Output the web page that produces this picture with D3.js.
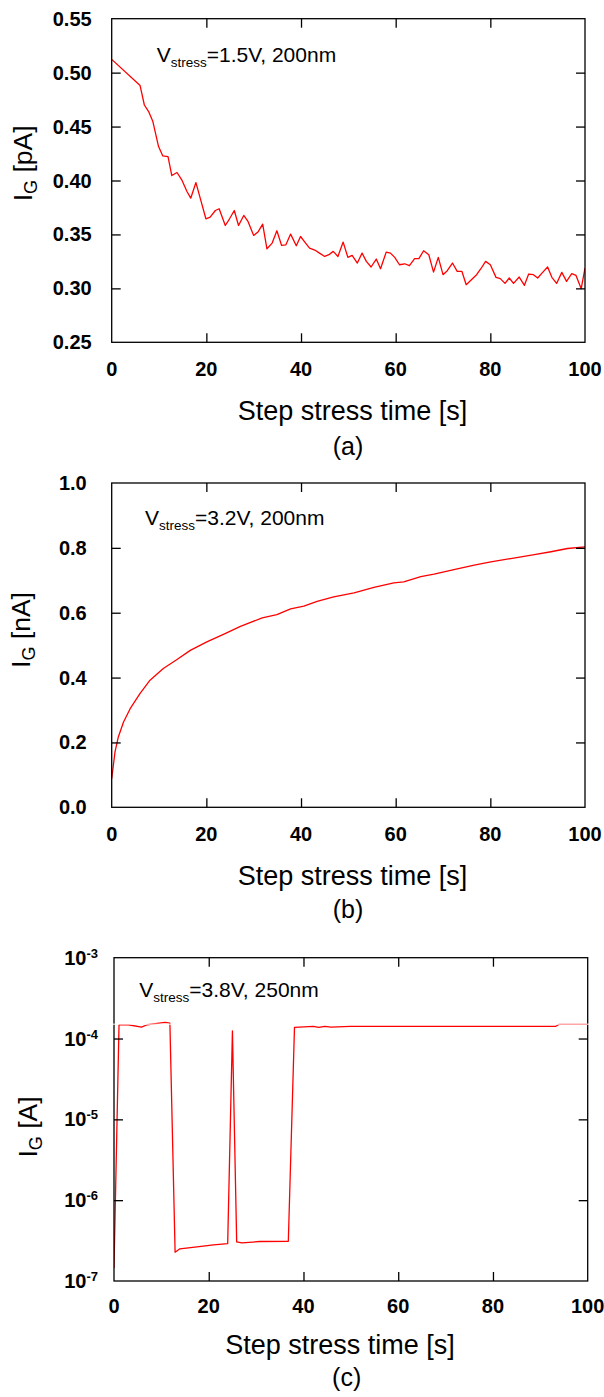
<!DOCTYPE html>
<html><head><meta charset="utf-8">
<script src="https://cdn.jsdelivr.net/npm/d3@7"></script>
<style>html,body{margin:0;padding:0;background:#fff;} svg{display:block;}</style>
</head><body><svg id="chart" width="604" height="1397"></svg>
<script>
// ---------- DATA ----------
const timeA=[0,6.0,6.9,7.8,8.7,9.9,10.8,11.9,12.7,13.8,14.8,15.9,16.7,17.8,18.8,19.9,20.8,21.9,22.7,24.0,24.9,25.9,26.8,27.9,28.8,30.0,30.9,31.9,32.8,33.9,34.9,35.9,36.8,37.8,39.0,39.9,40.8,41.8,42.9,43.9,45.0,45.9,46.8,47.8,48.9,49.9,50.8,51.9,52.9,53.8,54.8,55.9,56.8,58.0,58.9,59.8,60.8,61.9,62.9,64.0,64.9,65.9,67.0,68.0,69.0,70.0,70.9,72.0,73.0,74.0,74.9,76.0,77.1,78.0,79.0,80.0,81.2,82.1,83.1,84.0,84.9,86.1,87.2,88.1,89.1,90.0,91.1,92.1,93.0,94.0,95.1,96.1,97.2,98.1,99.2,100];
const igA=[0.5123,0.488,0.470,0.4639,0.4546,0.4315,0.4228,0.4222,0.4046,0.4074,0.4006,0.3898,0.3836,0.3981,0.3821,0.3645,0.3660,0.3722,0.3738,0.3583,0.3645,0.3722,0.3583,0.3676,0.3620,0.3491,0.3522,0.3596,0.3367,0.3420,0.3534,0.3398,0.3404,0.3503,0.3395,0.3481,0.3429,0.3373,0.3355,0.3327,0.3296,0.3312,0.3343,0.3296,0.3429,0.3287,0.3306,0.3235,0.3327,0.3250,0.3198,0.3272,0.3182,0.3336,0.3327,0.3287,0.3219,0.3228,0.3210,0.3275,0.3275,0.3349,0.3312,0.3151,0.3287,0.3127,0.3164,0.3235,0.3157,0.3157,0.3034,0.3080,0.3127,0.3182,0.3250,0.3219,0.3102,0.3090,0.3046,0.3096,0.3046,0.3105,0.3028,0.3133,0.3127,0.3096,0.3151,0.3198,0.3102,0.3046,0.3148,0.3065,0.3136,0.3120,0.2997,0.3188];

const timeB=[0,0.7,1.4,2.5,3.9,6.0,8.1,10.9,13.8,16.6,20.1,23.6,27.2,31.8,34.9,37.8,40.6,43.4,46.9,51.2,55.4,59.6,61.7,65.3,68.1,72.3,76.6,80.1,84.3,89.3,92.8,96.3,100];
const igB=[0.088,0.171,0.217,0.263,0.304,0.351,0.392,0.428,0.456,0.484,0.510,0.533,0.558,0.584,0.594,0.612,0.620,0.635,0.649,0.661,0.678,0.692,0.695,0.711,0.719,0.733,0.747,0.757,0.767,0.779,0.788,0.798,0.803];

const timeC=[0,1.06,3.0,5.8,7.0,10.8,11.8,12.9,13.9,17.5,21.0,24.0,25.0,25.9,27.0,30.8,36.8,38.1,42.1,43.2,44.5,45.8,49.9,93.2,94.0,100];
const igC=[1.45e-7,1.48e-4,1.48e-4,1.38e-4,1.48e-4,1.58e-4,1.55e-4,2.27e-7,2.5e-7,2.65e-7,2.8e-7,2.9e-7,1.24e-4,3.04e-7,2.96e-7,3.08e-7,3.1e-7,1.37e-4,1.41e-4,1.37e-4,1.41e-4,1.38e-4,1.41e-4,1.41e-4,1.5e-4,1.5e-4];
const artifactC=1.5e-4;

const xTicks=[0,20,40,60,80,100];
const yTicksA=[0.25,0.30,0.35,0.40,0.45,0.50,0.55];
const yLabelsA=["0.25","0.30","0.35","0.40","0.45","0.50","0.55"];
const yTicksB=[0,0.2,0.4,0.6,0.8,1.0];
const yLabelsB=["0.0","0.2","0.4","0.6","0.8","1.0"];
const yTicksC=[1e-7,1e-6,1e-5,1e-4,1e-3];
const yExpC=["-7","-6","-5","-4","-3"];

const xTitle="Step stress time [s]";
const yUnits=[" [pA]"," [nA]"," [A]"];
const notes=["=1.5V, 200nm","=3.2V, 200nm","=3.8V, 250nm"];
const tags=["(a)","(b)","(c)"];

// ---------- LAYOUT ----------
const FONT="'Liberation Sans', Arial, Helvetica, sans-serif";
const layout=[
 {x0:111.7,x1:585,y0:18.7,y1:342.3, ytlx:91.7, xtly:376, xtitY:420, tagY:455, tagX:348, titX:352.5, ylabX:32, ylabY:163.4, noteX:156.7, noteY:61.7},
 {x0:111.7,x1:585,y0:483,y1:807.3, ytlx:86.7, xtly:841, xtitY:885, tagY:918, tagX:348, titX:352.5, ylabX:29.5, ylabY:630, noteX:145, noteY:525},
 {x0:114,x1:587.7,y0:957.7,y1:1281, ytlx:98, xtly:1313, xtitY:1354, tagY:1386, tagX:346.7, titX:340, ylabX:37, ylabY:1127, noteX:139.3, noteY:997.3}
];

const svg=d3.select("#chart");
svg.append("rect").attr("width",604).attr("height",1397).attr("fill","#fff");

function panel(i, xs, ys, yTicks, yLabelFn, times, vals){
  const L=layout[i];
  const g=svg.append("g");
  const cid="clip"+i;
  svg.append("clipPath").attr("id",cid).append("rect")
    .attr("x",L.x0).attr("y",L.y0).attr("width",L.x1-L.x0).attr("height",L.y1-L.y0);
  const pts=times.map((t,k)=>[t,vals[k]]);
  g.append("path").datum(pts).attr("clip-path",`url(#${cid})`)
    .attr("fill","none").attr("stroke","#ff0000").attr("stroke-width",1.3)
    .attr("stroke-linejoin","round")
    .attr("d",d3.line().x(d=>xs(d[0])).y(d=>ys(d[1])));
  g.append("rect").attr("x",L.x0).attr("y",L.y0).attr("width",L.x1-L.x0).attr("height",L.y1-L.y0)
    .attr("fill","none").attr("stroke","#000").attr("stroke-width",1.3);
  const TL=9;
  const xb=d3.axisBottom(xs).tickValues(xTicks.slice(1,-1)).tickSize(-TL).tickFormat("");
  const xt=d3.axisTop(xs).tickValues(xTicks.slice(1,-1)).tickSize(-TL).tickFormat("");
  const yl=d3.axisLeft(ys).tickValues(yTicks.slice(1,-1)).tickSize(-TL).tickFormat("");
  const yr=d3.axisRight(ys).tickValues(yTicks.slice(1,-1)).tickSize(-TL).tickFormat("");
  [[xb,`translate(0,${L.y1})`],[xt,`translate(0,${L.y0})`],[yl,`translate(${L.x0},0)`],[yr,`translate(${L.x1},0)`]].forEach(([ax,tr])=>{
    const a=g.append("g").attr("transform",tr).call(ax);
    a.select(".domain").remove();
    a.selectAll("line").attr("stroke","#000").attr("stroke-width",1.3);
  });
  g.selectAll(null).data(xTicks).enter().append("text")
    .attr("x",d=>xs(d)).attr("y",L.xtly).attr("text-anchor","middle")
    .attr("font-family",FONT).attr("font-size",20).attr("font-weight","bold").attr("fill","#000")
    .text(d=>d);
  yTicks.forEach((v,k)=>{
    const t=g.append("text").attr("x",L.ytlx).attr("y",ys(v)+7).attr("text-anchor","end")
      .attr("font-family",FONT).attr("font-weight","bold").attr("fill","#000");
    yLabelFn(t,k);
  });
  g.append("text").attr("x",L.titX).attr("y",L.xtitY).attr("text-anchor","middle")
    .attr("font-family",FONT).attr("font-size",27).attr("fill","#000").text(xTitle);
  g.append("text").attr("x",L.tagX).attr("y",L.tagY).attr("text-anchor","middle")
    .attr("font-family",FONT).attr("font-size",25).attr("fill","#000").text(tags[i]);
  const yt=g.append("text").attr("transform",`translate(${L.ylabX},${L.ylabY}) rotate(-90)`)
    .attr("text-anchor","middle").attr("font-family",FONT).attr("font-size",26.5).attr("fill","#000");
  yt.append("tspan").text("I");
  yt.append("tspan").attr("font-size",18).attr("dy",5).text("G");
  yt.append("tspan").attr("dy",-5).text(yUnits[i]);
  const nt=g.append("text").attr("x",L.noteX).attr("y",L.noteY)
    .attr("font-family",FONT).attr("font-size",21).attr("fill","#000");
  nt.append("tspan").text("V");
  nt.append("tspan").attr("font-size",13.5).attr("dy",5).text("stress");
  nt.append("tspan").attr("dy",-5).text(notes[i]);
  return g;
}

{
  const L=layout[0];
  const xs=d3.scaleLinear().domain([0,100]).range([L.x0,L.x1]);
  const ys=d3.scaleLinear().domain([0.25,0.55]).range([L.y1,L.y0]);
  panel(0,xs,ys,yTicksA,(t,k)=>t.attr("font-size",20).text(yLabelsA[k]),timeA,igA);
}
{
  const L=layout[1];
  const xs=d3.scaleLinear().domain([0,100]).range([L.x0,L.x1]);
  const ys=d3.scaleLinear().domain([0,1]).range([L.y1,L.y0]);
  panel(1,xs,ys,yTicksB,(t,k)=>t.attr("font-size",20).text(yLabelsB[k]),timeB,igB);
}
{
  const L=layout[2];
  const xs=d3.scaleLinear().domain([0,100]).range([L.x0,L.x1]);
  const ys=d3.scaleLog().domain([1e-7,1e-3]).range([L.y1,L.y0]);
  const g=panel(2,xs,ys,yTicksC,(t,k)=>{
    t.attr("font-size",20);
    t.append("tspan").text("10");
    t.append("tspan").attr("font-size",13).attr("dy",-7).text(yExpC[k]);
  },timeC,igC);
  g.append("line").attr("x1",xs(-13)).attr("x2",xs(101.5))
    .attr("y1",ys(artifactC)).attr("y2",ys(artifactC))
    .attr("stroke","#fff").attr("stroke-width",1.4).attr("stroke-opacity",0.65);
}
</script></body></html>
